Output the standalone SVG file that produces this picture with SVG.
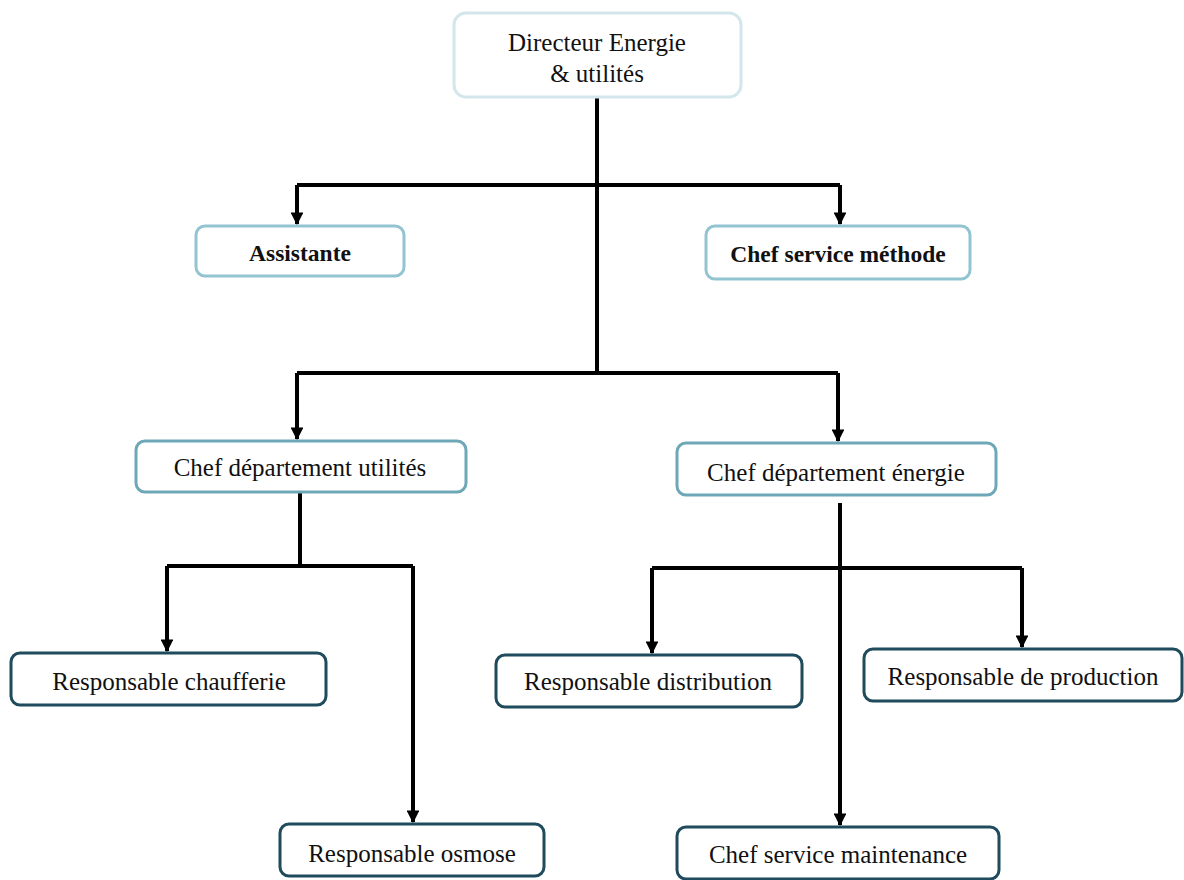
<svg xmlns="http://www.w3.org/2000/svg" width="1184" height="880" viewBox="0 0 1184 880">
  <style>
    .box { fill: #ffffff; stroke-width: 3; }
    .l0 { stroke: #d3e6ec; }
    .l1 { stroke: #93c4d2; }
    .l2 { stroke: #6ea8b8; }
    .l3 { stroke: #1f4b5d; }
    .lbl { font-family: "Liberation Serif", "Times New Roman", serif; font-size: 25px; fill: #111111; text-anchor: middle; }
    .bold { font-weight: bold; font-size: 23.5px; }
    .wire { fill: none; stroke: #000000; stroke-width: 4; stroke-linejoin: miter; }
  </style>
  <defs>
    <marker id="arrow" viewBox="0 0 10 10" refX="9" refY="5" markerWidth="3.2" markerHeight="3.2" orient="auto" markerUnits="strokeWidth">
      <path d="M0,0 L10,5 L0,10 Z" fill="#000000"/>
    </marker>
  </defs>

  <rect width="1184" height="880" fill="#ffffff"/>

  <!-- connectors -->
  <g id="connectors">
    <path class="wire" d="M597,97 V373"/>
    <path class="wire" d="M297,185 H840"/>
    <path class="wire" d="M297,185 V224" marker-end="url(#arrow)"/>
    <path class="wire" d="M840,185 V224" marker-end="url(#arrow)"/>
    <path class="wire" d="M297,373 H838"/>
    <path class="wire" d="M297,373 V439" marker-end="url(#arrow)"/>
    <path class="wire" d="M838,373 V441" marker-end="url(#arrow)"/>
    <path class="wire" d="M300,493 V566"/>
    <path class="wire" d="M167,566 H413"/>
    <path class="wire" d="M167,566 V651" marker-end="url(#arrow)"/>
    <path class="wire" d="M413,566 V822" marker-end="url(#arrow)"/>
    <path class="wire" d="M840,503 V825" marker-end="url(#arrow)"/>
    <path class="wire" d="M652,568 H1022"/>
    <path class="wire" d="M652,568 V653" marker-end="url(#arrow)"/>
    <path class="wire" d="M1022,568 V647" marker-end="url(#arrow)"/>
  </g>

  <g id="directeur">
    <rect class="box l0" x="454" y="13" width="287" height="84" rx="12"/>
    <text class="lbl" x="597" y="51">Directeur Energie</text>
    <text class="lbl" x="597" y="82">&amp; utilités</text>
  </g>

  <g id="assistante">
    <rect class="box l1" x="196" y="226" width="208" height="50" rx="9"/>
    <text class="lbl bold" x="300" y="261">Assistante</text>
  </g>

  <g id="chef-methode">
    <rect class="box l1" x="706" y="226" width="264" height="53" rx="9"/>
    <text class="lbl bold" x="838" y="262">Chef service méthode</text>
  </g>

  <g id="dept-utilites">
    <rect class="box l2" x="136" y="441" width="330" height="51" rx="9"/>
    <text class="lbl" x="300" y="476">Chef département utilités</text>
  </g>

  <g id="dept-energie">
    <rect class="box l2" x="677" y="443" width="319" height="52" rx="9"/>
    <text class="lbl" x="836" y="481">Chef département énergie</text>
  </g>

  <g id="resp-chaufferie">
    <rect class="box l3" x="11" y="653" width="315" height="52" rx="9"/>
    <text class="lbl" x="169" y="690">Responsable chaufferie</text>
  </g>

  <g id="resp-osmose">
    <rect class="box l3" x="280" y="824" width="264" height="52" rx="9"/>
    <text class="lbl" x="412" y="862">Responsable osmose</text>
  </g>

  <g id="resp-distribution">
    <rect class="box l3" x="496" y="655" width="306" height="52" rx="9"/>
    <text class="lbl" x="648" y="690">Responsable distribution</text>
  </g>

  <g id="resp-production">
    <rect class="box l3" x="864" y="649" width="318" height="52" rx="9"/>
    <text class="lbl" x="1023" y="685">Responsable de production</text>
  </g>

  <g id="chef-maintenance">
    <rect class="box l3" x="677" y="827" width="322" height="52" rx="9"/>
    <text class="lbl" x="838" y="863">Chef service maintenance</text>
  </g>
</svg>
